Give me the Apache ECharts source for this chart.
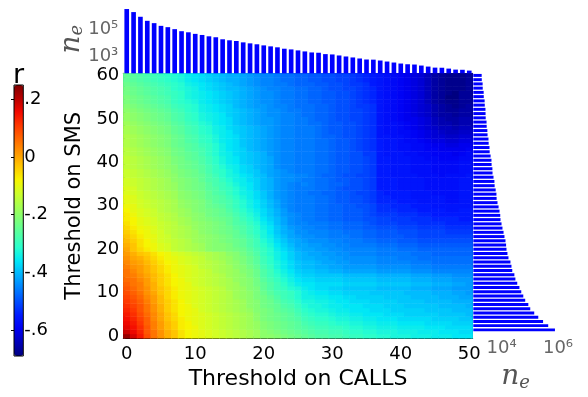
<!DOCTYPE html>
<html>
<head>
<meta charset="utf-8">
<script src="https://cdn.jsdelivr.net/npm/echarts@6/dist/echarts.min.js"></script>
<style>
  html, body { margin: 0; padding: 0; background: #fff; }
  #chart { width: 588px; height: 397px; }
</style>
</head>
<body>
<div id="chart"></div>
<script>
// thresholds (categories of the two axes)
const callThresholds = Array.from({ length: 51 }, (_, i) => i);
const smsThresholds = Array.from({ length: 61 }, (_, j) => j);

// edges left for each CALLS threshold (top bars)
const edgesByCalls = [1.66e6, 1.0e6, 4.6e5, 2.35e5, 1.6e5, 1.02e5, 8.2e4, 5.9e4, 4.2e4, 3.5e4,
  2.7e4, 2.25e4, 1.8e4, 1.54e4, 1.1e4, 9.3e3, 8.3e3, 6.6e3, 5.6e3, 4.8e3,
  4.0e3, 3.4e3, 2.9e3, 2.3e3, 2.05e3, 1.74e3, 1.47e3, 1.24e3, 1.18e3, 940,
  890, 750, 635, 540, 455, 385, 375, 325, 275, 233,
  197, 175, 167, 141, 119, 100, 98, 85, 72, 70, 61];

// edges left for each SMS threshold (right bars)
const edgesBySms = [7.8e5, 4.5e5, 2.96e5, 2.0e5, 1.44e5, 1.04e5, 8.9e4, 6.9e4, 5.9e4, 5.0e4,
  4.3e4, 3.6e4, 3.1e4, 2.85e4, 2.4e4, 2.25e4, 2.07e4, 1.76e4, 1.62e4, 1.5e4,
  1.45e4, 1.38e4, 1.27e4, 1.18e4, 1.08e4, 1.0e4, 9.2e3, 9.0e3, 8.5e3, 7.85e3,
  7.2e3, 6.7e3, 6.6e3, 6.2e3, 5.7e3, 5.6e3, 5.2e3, 4.8e3, 4.75e3, 4.45e3,
  4.4e3, 4.1e3, 3.8e3, 3.75e3, 3.5e3, 3.45e3, 3.2e3, 3.15e3, 2.98e3, 2.95e3,
  2.75e3, 2.72e3, 2.7e3, 2.55e3, 2.52e3, 2.35e3, 2.33e3, 2.16e3, 2.14e3, 2.0e3, 1.98e3];

// r in hundredths, one row per SMS threshold (0..60), columns = CALLS threshold (0..50)
const rRows = [
  [23,18,14,9,5,2,-1,-3,-6,-8,-9,-10,-11,-12,-13,-14,-15,-16,-17,-18,-20,-20,-21,-22,-23,-24,-25,-26,-27,-27,-28,-28,-29,-30,-30,-31,-31,-32,-32,-33,-33,-33,-34,-34,-34,-35,-35,-35,-36,-36,-36],
  [19,16,13,8,5,2,-1,-3,-6,-8,-9,-10,-11,-12,-13,-14,-15,-16,-17,-18,-20,-21,-22,-23,-24,-25,-26,-27,-28,-28,-29,-29,-30,-31,-31,-32,-32,-33,-33,-33,-34,-34,-34,-35,-35,-35,-36,-36,-36,-37,-37],
  [17,15,12,8,4,1,-2,-4,-7,-8,-9,-11,-12,-13,-14,-15,-16,-17,-18,-19,-21,-22,-23,-24,-25,-26,-27,-28,-29,-29,-30,-30,-31,-32,-32,-33,-33,-34,-34,-34,-35,-35,-35,-35,-36,-36,-36,-37,-37,-37,-37],
  [16,14,11,7,4,1,-2,-4,-7,-8,-10,-11,-12,-13,-14,-15,-16,-17,-18,-19,-21,-22,-23,-24,-25,-26,-28,-29,-30,-30,-31,-32,-32,-33,-33,-34,-34,-35,-35,-35,-36,-36,-36,-36,-37,-37,-37,-37,-38,-38,-38],
  [15,13,10,7,3,0,-3,-5,-7,-9,-10,-11,-12,-13,-14,-15,-16,-17,-18,-20,-22,-23,-24,-25,-26,-27,-29,-30,-31,-31,-32,-33,-33,-34,-34,-35,-35,-36,-36,-36,-37,-37,-37,-37,-37,-38,-38,-38,-38,-39,-39],
  [14,12,9,6,3,0,-3,-5,-8,-9,-10,-11,-12,-13,-14,-15,-16,-17,-18,-20,-22,-23,-24,-25,-26,-28,-30,-31,-32,-32,-33,-34,-34,-35,-35,-36,-36,-36,-37,-37,-37,-38,-38,-38,-38,-38,-39,-39,-39,-39,-40],
  [13,11,8,5,2,-1,-4,-6,-8,-9,-10,-12,-13,-14,-15,-16,-17,-18,-19,-21,-22,-23,-25,-26,-27,-29,-31,-32,-33,-33,-34,-35,-35,-36,-36,-36,-37,-37,-37,-38,-38,-38,-38,-38,-39,-39,-39,-39,-40,-40,-40],
  [12,10,8,5,2,-1,-4,-6,-8,-9,-11,-12,-13,-14,-15,-16,-17,-18,-20,-21,-23,-24,-25,-27,-28,-30,-32,-33,-33,-34,-35,-35,-36,-36,-36,-37,-37,-37,-38,-38,-38,-39,-39,-39,-39,-39,-40,-40,-40,-40,-41],
  [11,9,7,4,1,-2,-4,-6,-8,-10,-11,-12,-13,-14,-15,-16,-17,-18,-20,-21,-23,-24,-26,-28,-29,-31,-33,-33,-34,-34,-35,-36,-36,-37,-37,-37,-38,-38,-38,-38,-39,-39,-39,-39,-40,-40,-40,-40,-41,-41,-41],
  [10,8,6,3,1,-2,-5,-7,-9,-10,-11,-12,-13,-14,-15,-16,-18,-19,-20,-22,-23,-25,-27,-29,-30,-32,-34,-34,-35,-35,-36,-36,-37,-37,-38,-38,-38,-38,-39,-39,-39,-39,-40,-40,-40,-40,-41,-41,-41,-42,-42],
  [9,7,5,2,0,-3,-5,-7,-9,-10,-11,-12,-13,-14,-15,-16,-18,-19,-20,-22,-24,-26,-28,-29,-30,-32,-34,-35,-36,-36,-37,-37,-38,-38,-38,-38,-39,-39,-39,-39,-39,-40,-40,-40,-40,-41,-41,-41,-42,-42,-43],
  [8,6,4,2,-1,-3,-5,-7,-9,-10,-11,-12,-13,-14,-15,-17,-18,-19,-21,-22,-25,-27,-29,-30,-32,-33,-35,-36,-37,-37,-38,-38,-39,-39,-39,-39,-39,-40,-40,-40,-40,-40,-41,-41,-41,-42,-42,-42,-43,-43,-43],
  [7,5,4,1,-1,-4,-6,-8,-9,-10,-12,-13,-14,-15,-16,-17,-18,-20,-21,-23,-25,-27,-29,-31,-33,-35,-36,-36,-37,-37,-37,-37,-38,-38,-38,-38,-38,-39,-39,-39,-39,-39,-40,-40,-40,-41,-41,-41,-42,-42,-43],
  [6,5,3,1,-2,-4,-6,-8,-9,-11,-12,-13,-14,-15,-16,-17,-19,-20,-21,-23,-26,-28,-30,-32,-34,-36,-37,-37,-38,-38,-38,-38,-39,-39,-39,-39,-39,-40,-40,-40,-40,-40,-41,-41,-41,-42,-42,-42,-43,-43,-43],
  [5,4,2,0,-2,-4,-6,-8,-10,-11,-12,-13,-14,-15,-16,-18,-19,-20,-22,-24,-27,-29,-31,-33,-35,-37,-38,-38,-39,-39,-39,-39,-40,-40,-40,-40,-40,-41,-41,-41,-41,-41,-42,-42,-42,-43,-43,-43,-44,-44,-44],
  [5,3,1,-1,-3,-5,-7,-9,-10,-11,-12,-13,-14,-16,-17,-18,-19,-21,-22,-24,-27,-29,-32,-34,-36,-38,-39,-39,-40,-40,-41,-41,-42,-42,-42,-42,-42,-43,-43,-43,-43,-43,-44,-44,-44,-45,-45,-45,-45,-45,-45],
  [4,2,1,-1,-3,-5,-7,-9,-10,-11,-12,-14,-15,-16,-17,-18,-20,-21,-23,-25,-28,-30,-33,-35,-37,-39,-40,-40,-41,-41,-42,-42,-43,-43,-43,-43,-43,-44,-44,-44,-44,-44,-45,-45,-45,-46,-46,-46,-46,-46,-46],
  [3,1,0,-2,-4,-6,-8,-9,-11,-12,-13,-14,-15,-16,-17,-19,-20,-22,-24,-26,-29,-31,-33,-35,-37,-39,-40,-40,-41,-42,-42,-43,-43,-44,-44,-44,-44,-45,-45,-45,-45,-45,-46,-46,-46,-47,-47,-47,-47,-47,-47],
  [2,0,-1,-3,-5,-7,-9,-10,-11,-12,-13,-14,-16,-17,-18,-19,-21,-22,-24,-26,-29,-31,-34,-36,-38,-40,-41,-41,-42,-42,-43,-43,-44,-44,-44,-44,-44,-45,-45,-45,-46,-46,-46,-47,-47,-47,-47,-47,-47,-47,-47],
  [1,-1,-3,-4,-6,-8,-9,-11,-12,-13,-14,-15,-16,-17,-18,-20,-21,-23,-25,-27,-30,-32,-34,-36,-38,-40,-41,-42,-42,-43,-43,-44,-44,-45,-45,-45,-45,-46,-46,-46,-46,-46,-47,-47,-47,-48,-48,-48,-48,-48,-48],
  [0,-3,-5,-7,-9,-11,-12,-14,-15,-16,-17,-18,-20,-21,-21,-22,-23,-24,-26,-28,-30,-32,-35,-37,-39,-41,-42,-42,-43,-43,-44,-44,-45,-45,-45,-45,-45,-46,-46,-46,-47,-47,-47,-48,-48,-48,-48,-48,-48,-48,-48],
  [-1,-3,-6,-8,-9,-11,-12,-14,-15,-16,-17,-18,-20,-21,-21,-22,-24,-25,-27,-29,-31,-33,-36,-38,-40,-42,-42,-43,-43,-44,-44,-45,-45,-46,-46,-46,-46,-47,-47,-47,-48,-48,-48,-49,-49,-49,-49,-49,-49,-49,-49],
  [-2,-4,-6,-8,-10,-12,-13,-14,-15,-16,-18,-19,-20,-21,-22,-23,-24,-25,-27,-29,-32,-34,-37,-39,-41,-42,-43,-44,-44,-44,-45,-45,-46,-46,-46,-47,-47,-48,-48,-48,-49,-49,-49,-50,-50,-50,-50,-50,-50,-50,-50],
  [-3,-5,-7,-9,-10,-12,-13,-15,-16,-17,-18,-19,-20,-21,-22,-23,-25,-26,-28,-30,-33,-35,-38,-40,-42,-43,-44,-44,-45,-45,-46,-46,-46,-47,-47,-48,-48,-49,-49,-49,-49,-50,-50,-51,-51,-51,-51,-51,-51,-51,-51],
  [-4,-6,-8,-9,-11,-12,-14,-15,-16,-17,-18,-20,-21,-22,-23,-24,-25,-27,-29,-31,-33,-36,-39,-41,-42,-44,-44,-45,-45,-45,-46,-46,-47,-47,-47,-48,-48,-49,-49,-49,-50,-50,-50,-51,-51,-51,-51,-52,-52,-52,-52],
  [-5,-7,-9,-10,-11,-13,-14,-15,-16,-17,-19,-20,-21,-22,-23,-24,-26,-27,-29,-31,-34,-36,-39,-41,-43,-44,-45,-45,-46,-46,-47,-47,-48,-48,-48,-49,-49,-50,-50,-50,-51,-51,-51,-52,-52,-52,-52,-53,-53,-53,-53],
  [-6,-8,-10,-11,-12,-13,-14,-15,-17,-18,-19,-20,-21,-22,-23,-25,-27,-28,-30,-32,-35,-37,-40,-42,-44,-45,-45,-46,-46,-46,-47,-47,-48,-48,-48,-49,-50,-51,-51,-51,-52,-52,-52,-53,-53,-53,-53,-54,-54,-54,-54],
  [-7,-8,-10,-11,-12,-14,-15,-16,-17,-18,-20,-21,-22,-23,-24,-25,-27,-29,-31,-33,-36,-38,-40,-42,-44,-45,-46,-46,-47,-47,-48,-48,-49,-49,-49,-50,-50,-51,-51,-52,-52,-52,-53,-53,-53,-54,-54,-54,-54,-55,-55],
  [-7,-9,-11,-12,-13,-14,-15,-16,-18,-19,-20,-21,-23,-24,-25,-26,-28,-30,-32,-34,-37,-39,-41,-43,-44,-45,-46,-46,-47,-47,-48,-48,-49,-49,-49,-50,-51,-52,-52,-52,-53,-53,-53,-54,-54,-55,-55,-55,-55,-55,-55],
  [-8,-10,-11,-12,-13,-15,-16,-17,-18,-19,-21,-22,-23,-24,-25,-27,-29,-31,-33,-35,-37,-39,-41,-43,-45,-46,-46,-46,-47,-47,-48,-48,-49,-49,-49,-50,-51,-53,-53,-53,-54,-54,-54,-55,-55,-55,-55,-56,-56,-55,-55],
  [-9,-10,-12,-13,-14,-15,-16,-17,-19,-20,-21,-22,-24,-25,-26,-28,-30,-32,-34,-36,-38,-40,-42,-44,-45,-46,-46,-46,-47,-47,-48,-48,-49,-49,-50,-50,-51,-53,-53,-54,-54,-54,-55,-55,-55,-56,-56,-56,-56,-56,-56],
  [-10,-11,-12,-13,-14,-15,-16,-17,-19,-20,-21,-22,-24,-26,-27,-28,-30,-32,-34,-36,-38,-40,-42,-44,-45,-46,-46,-46,-47,-47,-48,-49,-49,-50,-50,-51,-52,-54,-54,-54,-55,-55,-55,-56,-56,-56,-56,-57,-57,-56,-56],
  [-10,-11,-13,-14,-15,-16,-17,-18,-20,-21,-22,-23,-25,-26,-27,-29,-31,-33,-35,-37,-39,-41,-43,-44,-45,-46,-46,-46,-47,-47,-48,-49,-49,-50,-50,-51,-52,-54,-54,-55,-55,-55,-56,-56,-56,-56,-56,-57,-57,-56,-56],
  [-11,-12,-13,-14,-15,-16,-17,-18,-20,-21,-22,-23,-25,-27,-28,-30,-32,-34,-35,-37,-39,-41,-43,-44,-45,-46,-46,-47,-47,-48,-48,-49,-49,-50,-51,-51,-52,-54,-55,-55,-55,-55,-56,-56,-56,-57,-57,-57,-57,-56,-56],
  [-11,-12,-14,-15,-16,-17,-18,-19,-21,-22,-23,-24,-26,-27,-29,-30,-32,-34,-36,-38,-40,-41,-43,-44,-45,-46,-46,-46,-47,-47,-48,-49,-50,-50,-50,-51,-52,-55,-55,-55,-56,-56,-56,-56,-57,-57,-57,-57,-57,-56,-56],
  [-12,-13,-14,-15,-16,-17,-18,-19,-21,-22,-23,-24,-26,-28,-29,-31,-33,-35,-36,-38,-40,-41,-43,-44,-45,-46,-45,-46,-47,-47,-48,-48,-49,-50,-50,-51,-52,-55,-55,-55,-56,-56,-56,-56,-57,-57,-57,-57,-57,-56,-56],
  [-12,-13,-14,-15,-16,-17,-18,-20,-21,-22,-23,-25,-27,-28,-30,-32,-34,-35,-37,-38,-40,-41,-43,-44,-44,-45,-46,-46,-47,-47,-48,-49,-49,-50,-50,-51,-52,-55,-55,-55,-56,-56,-56,-56,-57,-57,-57,-57,-57,-56,-56],
  [-13,-14,-15,-16,-17,-18,-19,-20,-22,-23,-24,-25,-27,-29,-31,-33,-34,-36,-37,-39,-40,-42,-43,-44,-44,-45,-45,-46,-47,-48,-48,-49,-50,-50,-51,-51,-52,-55,-55,-56,-56,-56,-56,-57,-57,-57,-58,-57,-57,-57,-56],
  [-13,-14,-15,-16,-17,-18,-19,-21,-22,-23,-24,-26,-28,-30,-31,-33,-35,-37,-38,-39,-41,-42,-43,-44,-45,-46,-46,-46,-47,-47,-48,-49,-49,-50,-50,-51,-52,-55,-55,-56,-56,-56,-57,-57,-57,-58,-58,-58,-58,-57,-57],
  [-14,-15,-16,-17,-18,-19,-20,-21,-23,-24,-25,-26,-28,-30,-32,-34,-35,-37,-38,-40,-41,-42,-44,-45,-45,-46,-46,-46,-47,-47,-48,-49,-49,-50,-50,-51,-52,-55,-55,-56,-56,-56,-57,-57,-57,-58,-58,-58,-58,-57,-57],
  [-14,-15,-16,-17,-18,-19,-20,-22,-23,-24,-25,-27,-29,-31,-33,-35,-36,-38,-39,-40,-41,-42,-44,-45,-45,-46,-46,-46,-47,-47,-48,-49,-49,-50,-50,-51,-52,-55,-55,-56,-56,-56,-57,-57,-57,-58,-58,-58,-58,-57,-57],
  [-14,-15,-16,-17,-18,-19,-20,-22,-23,-25,-26,-27,-29,-31,-33,-35,-36,-38,-39,-40,-41,-42,-44,-45,-45,-46,-46,-46,-47,-47,-48,-49,-49,-50,-50,-51,-52,-55,-55,-56,-56,-56,-57,-57,-58,-58,-59,-59,-59,-58,-58],
  [-15,-16,-17,-18,-19,-20,-21,-23,-24,-25,-26,-28,-30,-32,-34,-35,-37,-38,-39,-40,-41,-43,-44,-45,-45,-46,-46,-46,-47,-47,-48,-49,-49,-50,-50,-52,-52,-55,-56,-56,-56,-57,-57,-58,-58,-59,-59,-59,-60,-59,-58],
  [-15,-16,-17,-18,-19,-20,-21,-23,-24,-26,-27,-28,-30,-32,-34,-36,-37,-38,-40,-41,-42,-43,-44,-45,-45,-46,-46,-46,-47,-47,-48,-49,-49,-50,-51,-52,-53,-55,-56,-56,-57,-57,-58,-58,-59,-59,-60,-60,-60,-60,-59],
  [-16,-17,-18,-19,-20,-21,-22,-24,-25,-26,-27,-29,-30,-32,-34,-36,-37,-39,-40,-41,-42,-43,-44,-45,-45,-46,-46,-46,-47,-47,-48,-49,-49,-50,-51,-52,-53,-55,-56,-56,-57,-57,-58,-58,-59,-60,-60,-61,-61,-60,-60],
  [-16,-17,-18,-19,-20,-21,-22,-24,-25,-27,-28,-30,-31,-33,-35,-36,-37,-39,-40,-41,-42,-43,-44,-45,-45,-46,-46,-46,-47,-47,-48,-49,-49,-50,-51,-52,-53,-55,-56,-56,-57,-58,-58,-59,-60,-61,-61,-62,-62,-61,-61],
  [-16,-17,-18,-19,-20,-21,-22,-24,-25,-27,-28,-30,-31,-33,-35,-36,-37,-39,-40,-41,-42,-43,-44,-45,-45,-46,-46,-46,-47,-48,-48,-49,-50,-50,-51,-52,-53,-56,-56,-57,-57,-58,-59,-60,-61,-62,-62,-63,-63,-62,-62],
  [-17,-18,-19,-20,-21,-22,-23,-25,-26,-28,-29,-31,-32,-34,-35,-36,-38,-39,-40,-41,-42,-43,-44,-45,-45,-46,-46,-46,-47,-48,-49,-49,-50,-50,-51,-52,-53,-56,-57,-57,-58,-58,-59,-60,-61,-62,-63,-64,-64,-63,-63],
  [-17,-18,-19,-20,-21,-22,-23,-25,-26,-28,-29,-31,-32,-34,-35,-37,-38,-39,-40,-41,-42,-43,-44,-45,-45,-46,-46,-46,-47,-48,-49,-49,-50,-50,-51,-52,-53,-56,-57,-57,-58,-59,-60,-61,-62,-63,-64,-64,-65,-64,-64],
  [-18,-19,-20,-21,-22,-23,-24,-26,-27,-29,-30,-32,-33,-35,-36,-37,-39,-40,-41,-42,-43,-43,-44,-45,-45,-46,-46,-47,-47,-48,-49,-49,-50,-50,-51,-52,-53,-56,-57,-57,-58,-59,-60,-61,-62,-64,-65,-65,-66,-65,-65],
  [-19,-20,-21,-22,-23,-24,-25,-27,-28,-30,-31,-33,-34,-35,-36,-37,-39,-40,-41,-42,-43,-43,-44,-45,-45,-46,-46,-47,-48,-48,-49,-50,-50,-51,-51,-52,-53,-56,-57,-58,-59,-60,-60,-61,-62,-64,-65,-66,-66,-65,-65],
  [-19,-20,-21,-22,-23,-24,-25,-27,-28,-30,-31,-33,-34,-35,-36,-38,-39,-40,-41,-42,-43,-44,-44,-45,-45,-46,-47,-47,-48,-48,-49,-50,-50,-51,-51,-52,-53,-56,-57,-58,-59,-60,-61,-62,-63,-65,-66,-66,-67,-66,-66],
  [-20,-21,-22,-23,-24,-25,-26,-28,-29,-31,-32,-34,-35,-36,-37,-38,-39,-40,-41,-42,-43,-44,-44,-45,-46,-46,-47,-47,-48,-48,-49,-50,-50,-51,-51,-52,-53,-56,-57,-58,-59,-60,-61,-62,-63,-65,-66,-67,-67,-66,-66],
  [-21,-22,-23,-24,-25,-26,-27,-29,-30,-31,-32,-34,-35,-36,-37,-38,-40,-41,-42,-43,-43,-44,-45,-45,-46,-47,-47,-47,-48,-48,-49,-50,-50,-51,-52,-52,-53,-56,-57,-58,-59,-60,-61,-62,-63,-65,-66,-67,-68,-67,-66],
  [-22,-23,-24,-25,-26,-27,-28,-30,-31,-32,-33,-35,-36,-37,-38,-39,-40,-41,-42,-43,-44,-44,-45,-46,-46,-47,-47,-48,-48,-49,-49,-50,-50,-51,-52,-53,-54,-56,-57,-58,-59,-60,-61,-62,-64,-66,-67,-68,-68,-67,-67],
  [-22,-23,-24,-25,-26,-27,-28,-30,-31,-33,-34,-35,-36,-37,-38,-39,-40,-41,-42,-43,-44,-44,-45,-46,-46,-47,-47,-48,-48,-49,-49,-50,-50,-51,-52,-53,-54,-56,-57,-58,-59,-60,-61,-62,-64,-66,-67,-69,-69,-67,-67],
  [-23,-24,-25,-26,-27,-28,-29,-30,-31,-33,-34,-35,-36,-37,-38,-39,-40,-41,-42,-43,-44,-44,-45,-46,-46,-47,-47,-48,-48,-49,-49,-50,-50,-51,-52,-53,-54,-56,-57,-58,-59,-60,-61,-62,-64,-66,-67,-68,-69,-67,-67],
  [-23,-24,-25,-26,-27,-28,-29,-31,-32,-33,-34,-36,-37,-38,-39,-40,-40,-41,-42,-43,-44,-45,-45,-46,-46,-47,-47,-48,-48,-49,-50,-50,-51,-51,-52,-53,-54,-56,-57,-58,-59,-60,-61,-62,-64,-66,-67,-68,-68,-68,-67],
  [-24,-25,-26,-27,-28,-29,-30,-31,-32,-34,-35,-36,-37,-38,-39,-40,-41,-42,-43,-44,-45,-45,-46,-46,-47,-48,-48,-48,-49,-49,-50,-50,-51,-52,-52,-53,-55,-56,-57,-58,-59,-60,-61,-62,-64,-66,-67,-68,-68,-68,-67],
  [-25,-26,-27,-28,-29,-30,-31,-32,-33,-35,-36,-37,-38,-39,-40,-41,-41,-42,-43,-44,-45,-45,-46,-47,-47,-48,-48,-49,-49,-50,-50,-51,-51,-52,-53,-54,-55,-56,-57,-58,-59,-60,-61,-62,-64,-66,-67,-68,-68,-68,-67],
  [-25,-26,-27,-28,-29,-30,-31,-32,-33,-35,-36,-37,-38,-39,-40,-41,-41,-42,-43,-44,-45,-45,-46,-47,-47,-48,-48,-49,-49,-50,-50,-51,-51,-52,-53,-54,-55,-56,-57,-58,-59,-60,-61,-62,-64,-66,-67,-68,-68,-68,-67]
];

// colour bar ticks
const colorbarTicks = [0.2, 0, -0.2, -0.4, -0.6];

// jet colour map (matplotlib)
const jet = ['#000080', '#0000B9', '#0000F3', '#001AFF', '#004DFF', '#0080FF', '#00B3FF',
  '#00E6F7', '#29FFCE', '#52FFA4', '#7BFF7B', '#A4FF52', '#CEFF29', '#F7F500',
  '#FFC600', '#FF9700', '#FF6800', '#FF3900', '#F30900', '#B90000', '#800000'];

const heatData = [];
rRows.forEach((row, j) => {
  if (row.length !== callThresholds.length) throw new Error('row ' + j + ' has ' + row.length);
  row.forEach((v, i) => heatData.push([i, j, v / 100]));
});

const sup = { 3: '\u00b3', 4: '\u2074', 5: '\u2075', 6: '\u2076' };
function powLabel(shown) {
  return function (v) {
    const e = Math.round(Math.log10(v));
    return shown.indexOf(e) >= 0 ? '10' + sup[e] : '';
  };
}

// n with subscript e, math-italic look
const neName = {
  color: '#555',
  rich: {
    n: { fontFamily: 'DejaVu Serif', fontStyle: 'italic', fontSize: 28, color: '#555' },
    e: { fontFamily: 'DejaVu Serif', fontStyle: 'italic', fontSize: 18, color: '#555', padding: [12, 0, 0, 0] }
  }
};

const chart = echarts.init(document.getElementById('chart'));
chart.setOption({
  animation: false,
  textStyle: { fontFamily: 'DejaVu Sans' },
  grid: [
    { left: 123.3, top: 73.3, width: 349.4, height: 265 },   // heatmap
    { left: 123.3, top: 5, width: 349.4, height: 68.3 },     // top bars
    { left: 473.3, top: 73.3, width: 84.7, height: 265 },    // right bars
    { left: 14, top: 85, width: 9.3, height: 271, show: true, z: 5,
      borderColor: '#000', borderWidth: 1, backgroundColor: 'transparent' } // colour bar frame
  ],
  visualMap: {
    type: 'continuous',
    min: -0.69,
    max: 0.25,
    dimension: 2,
    seriesIndex: 0,
    calculable: false,
    hoverLink: false,
    left: 14,
    top: 85,
    padding: 0,
    itemWidth: 9.3,
    itemHeight: 271,
    inRange: { color: jet }
  },
  xAxis: [
    {
      gridIndex: 0, type: 'category', data: callThresholds, position: 'bottom',
      axisLine: { lineStyle: { color: '#000', width: 1 } },
      axisTick: { show: true, inside: true, length: 2, interval: 0, lineStyle: { color: '#333' } },
      axisLabel: { interval: 9, fontSize: 18, color: '#000', margin: 7 },
      splitLine: { show: false },
      name: 'Threshold on CALLS', nameLocation: 'middle', nameGap: 24,
      nameTextStyle: { fontSize: 22, color: '#000' }
    },
    {
      gridIndex: 0, type: 'category', data: callThresholds, position: 'top',
      axisLine: { lineStyle: { color: '#000', width: 1 } },
      axisTick: { show: true, inside: true, length: 2, interval: 0, lineStyle: { color: '#333' } },
      axisLabel: { show: false }, splitLine: { show: false }
    },
    { gridIndex: 1, type: 'category', data: callThresholds, show: false },
    {
      gridIndex: 2, type: 'log', logBase: 10, min: 1e3, max: 1e6, position: 'bottom',
      axisLine: { show: false }, axisTick: { show: false }, splitLine: { show: false },
      axisLabel: { formatter: powLabel([4, 6]), fontSize: 18, color: '#666', margin: 7 },
      name: '{n|n}{e|e}', nameLocation: 'middle', nameGap: 30, nameMoveOverlap: false,
      nameTextStyle: neName
    },
    {
      gridIndex: 3, type: 'value', position: 'top', min: 0, max: 1,
      axisLine: { show: false }, axisTick: { show: false }, axisLabel: { show: false },
      splitLine: { show: false },
      name: 'r', nameLocation: 'middle', nameGap: -4,
      nameTextStyle: { fontSize: 27, color: '#000' }
    }
  ],
  yAxis: [
    {
      gridIndex: 0, type: 'category', data: smsThresholds, position: 'left',
      axisLine: { lineStyle: { color: '#000', width: 1 } },
      axisTick: { show: true, inside: true, length: 2, interval: 0, lineStyle: { color: '#333' } },
      axisLabel: { interval: 9, fontSize: 18, color: '#000', margin: 4 },
      splitLine: { show: false },
      name: 'Threshold on SMS', nameLocation: 'middle', nameGap: 29, nameRotate: 90,
      nameTextStyle: { fontSize: 21, color: '#000' }
    },
    {
      gridIndex: 0, type: 'category', data: smsThresholds, position: 'right',
      axisLine: { lineStyle: { color: '#000', width: 1 } },
      axisTick: { show: true, inside: true, length: 2, interval: 0, lineStyle: { color: '#333' } },
      axisLabel: { show: false }, splitLine: { show: false }
    },
    {
      gridIndex: 1, type: 'log', logBase: 10, min: 39, max: 3.24e6, position: 'left',
      axisLine: { lineStyle: { color: '#000', width: 1 } },
      axisTick: { inside: true, length: 4, lineStyle: { color: '#333' } },
      axisLabel: {
        formatter: powLabel([3, 5]), fontSize: 18, color: '#666', margin: 5,
        verticalAlign: 'top', lineHeight: 6
      },
      splitLine: { show: false },
      name: '{n|n}{e|e}', nameLocation: 'middle', nameGap: 37, nameRotate: 90, nameMoveOverlap: false,
      nameTextStyle: neName
    },
    { gridIndex: 2, type: 'category', data: smsThresholds, show: false },
    {
      gridIndex: 3, type: 'value', min: -0.69, max: 0.25, position: 'right', z: 6,
      axisLine: { show: false },
      axisTick: { show: true, inside: true, length: 3, customValues: colorbarTicks, lineStyle: { color: '#000' } },
      axisLabel: {
        customValues: colorbarTicks, fontSize: 18, color: '#000', margin: 1,
        formatter: v => (Math.abs(v) < 1e-9 ? '0' : v.toFixed(1).replace('0.', '.'))
      },
      splitLine: { show: false }
    }
  ],
  series: [
    {
      type: 'heatmap', xAxisIndex: 0, yAxisIndex: 0, data: heatData,
      progressive: 0, emphasis: { disabled: true }, itemStyle: { borderWidth: 0 }
    },
    {
      type: 'bar', xAxisIndex: 2, yAxisIndex: 2, data: edgesByCalls,
      barWidth: '68%', itemStyle: { color: '#0000ff' }, emphasis: { disabled: true }
    },
    {
      type: 'bar', xAxisIndex: 3, yAxisIndex: 3, data: edgesBySms,
      barWidth: '70%', itemStyle: { color: '#0000ff' }, emphasis: { disabled: true }
    }
  ]
});
</script>
</body>
</html>
